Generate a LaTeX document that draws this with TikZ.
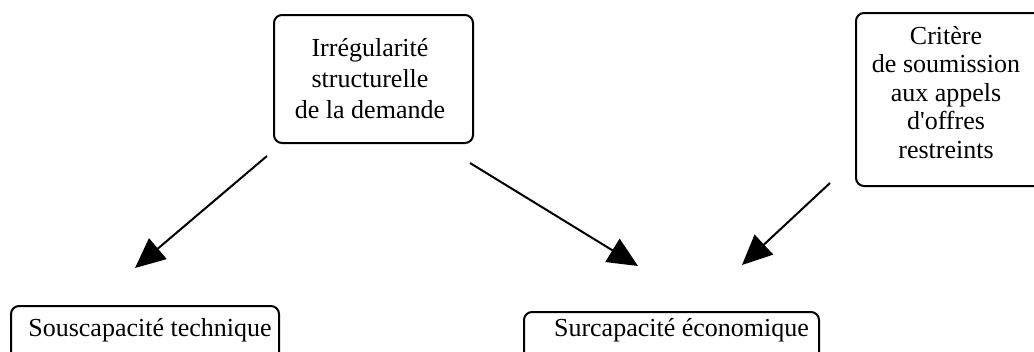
\documentclass[tikz,border=0pt]{standalone}
\usepackage{fontspec}
\setmainfont{Liberation Serif}[Ligatures=TeXOff]
\usetikzlibrary{arrows.meta}
\begin{document}
\begin{tikzpicture}[x=1pt,y=-1pt,
  box/.style={draw, line width=2pt, rounded corners=8pt, inner xsep=0pt,
    inner ysep=0pt, anchor=north west, align=center},
  link/.style={line width=2pt, -{Triangle[length=30pt,width=27pt]}}]
\useasboundingbox (0,0) rectangle (1034,351);
\clip (0,0) rectangle (1034,351);

% causes (multi-line text: height runs down to the last baseline)
\node[box, minimum width=199pt, text height=103pt, text depth=25pt,
  font=\fontsize{26}{31}\selectfont] (irr) at (273,14)
  {\begin{tabular}[b]{@{}c@{}}Irrégularité\\structurelle\\de la demande\end{tabular}\hspace*{7pt}};
\node[box, minimum width=200pt, text height=145pt, text depth=28pt,
  font=\fontsize{26}{28.5}\selectfont] (crit) at (855,12)
  {\begin{tabular}[b]{@{}c@{}}Critère\\de soumission\\aux appels\\d'offres\\restreints\end{tabular}\hspace*{20pt}};

% effects
\node[box, minimum width=268pt, text height=30pt, text depth=65pt,
  font=\fontsize{26}{30}\selectfont] (sous) at (10,305)
  {\hspace*{10pt}Souscapacité technique};
\node[box, minimum width=295pt, text height=24pt, text depth=59pt,
  font=\fontsize{26}{30}\selectfont] (surc) at (523,311)
  {\hspace*{20pt}Surcapacité économique};

% arrow ends
\coordinate (irr-out1) at (267,156);
\coordinate (irr-out2) at (470,163);
\coordinate (crit-out) at (830,183);
\coordinate (sous-in) at (135,268);
\coordinate (surc-in1) at (638,266);
\coordinate (surc-in2) at (742,265);

\draw[link] (irr-out1) -- (sous-in);
\draw[link] (irr-out2) -- (surc-in1);
\draw[link] (crit-out) -- (surc-in2);
\end{tikzpicture}
\end{document}
